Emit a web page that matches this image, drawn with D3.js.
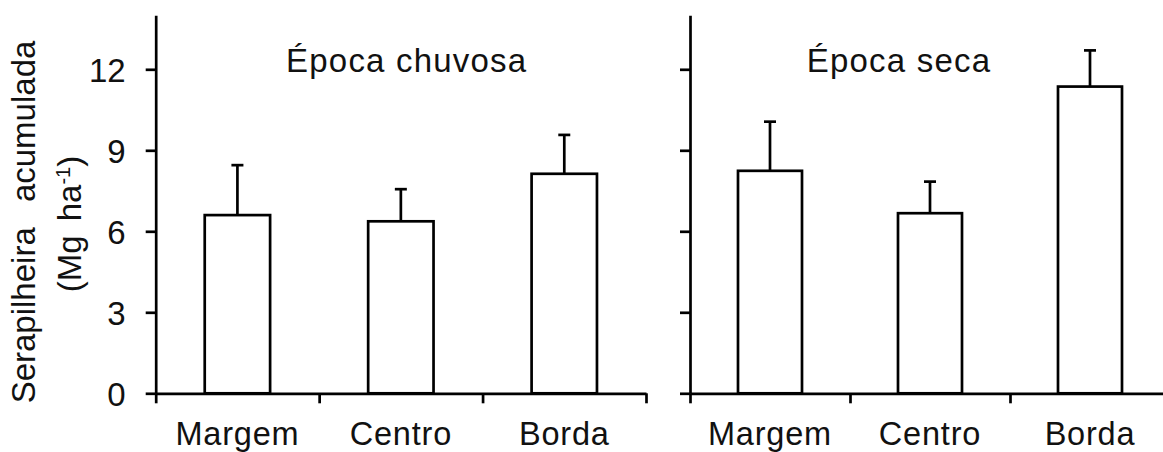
<!DOCTYPE html>
<html>
<head>
<meta charset="utf-8">
<script src="https://cdn.jsdelivr.net/npm/d3@7"></script>
<style>
body { margin: 0; background: #fff; }
text { font-family: "Liberation Sans", Arial, sans-serif; fill: #111; }
</style>
</head>
<body>
<div id="chart"></div>
<script>
// categories and values (Mg ha-1)
var sites = ["Margem", "Centro", "Borda"];
var rainyMean = [6.6, 6.37, 8.13];
var rainyErr = [8.45, 7.56, 9.57];
var dryMean = [8.24, 6.67, 11.36];
var dryErr = [10.06, 7.84, 12.7];
var yTicks = [0, 3, 6, 9, 12];
var panelTitles = ["Época chuvosa", "Época seca"];

var w = 1163, h = 452;
var lw = 2.7;

var svg = d3.select("#chart")
	.append("svg")
	.attr("width", w)
	.attr("height", h);

// shared y scale
var yScale = d3.scaleLinear()
	.domain([0, 14])
	.range([393.3, 15.3]);

var panels = [
	{ x0: 155.7, x1: 646, mean: rainyMean, err: rainyErr, title: panelTitles[0], tx: 406.7, labels: true },
	{ x0: 690, x1: 1170, mean: dryMean, err: dryErr, title: panelTitles[1], tx: 899, labels: false }
];

panels.forEach(function(p) {
	var g = svg.append("g");

	var xBand = d3.scaleBand()
		.domain(sites)
		.range([p.x0, p.x1])
		.paddingInner(0.6)
		.paddingOuter(0.3);

	// boundary ticks between categories
	var xEdge = d3.scaleLinear()
		.domain([0, sites.length])
		.range([p.x0, p.x1]);

	// Y axis
	var yAxis = d3.axisLeft(yScale)
		.tickValues(yTicks)
		.tickSize(10)
		.tickSizeOuter(0)
		.tickPadding(20)
		.tickFormat(p.labels ? d3.format("d") : "");

	var ya = g.append("g")
		.attr("transform", "translate(" + p.x0 + ",0)")
		.call(yAxis);
	ya.selectAll("text")
		.style("font-size", "33px")
		.attr("dy", "0.36em");

	// X axis tick marks
	var xAxis = d3.axisBottom(xEdge)
		.tickValues(d3.range(sites.length + 1))
		.tickSize(10)
		.tickSizeOuter(0)
		.tickFormat("");

	g.append("g")
		.attr("transform", "translate(0," + yScale(0) + ")")
		.call(xAxis);

	// category labels
	var xLab = d3.axisBottom(xBand).tickSize(0).tickPadding(0);
	var xl = g.append("g")
		.attr("transform", "translate(0," + yScale(0) + ")")
		.call(xLab);
	xl.select(".domain").remove();
	xl.selectAll("text")
		.attr("y", 52)
		.attr("dy", 0)
		.style("font-size", "32.5px")
		.style("letter-spacing", "0.8px");

	g.selectAll(".domain, .tick line")
		.attr("stroke", "#000")
		.attr("stroke-width", lw);

	// error bars (upper only)
	g.selectAll(".err")
		.data(sites)
		.enter()
		.append("line")
		.attr("class", "err")
		.attr("x1", function(d) { return xBand(d) + xBand.bandwidth() / 2; })
		.attr("x2", function(d) { return xBand(d) + xBand.bandwidth() / 2; })
		.attr("y1", function(d, i) { return yScale(p.mean[i]); })
		.attr("y2", function(d, i) { return yScale(p.err[i]); })
		.attr("stroke", "#000")
		.attr("stroke-width", lw);

	g.selectAll(".cap")
		.data(sites)
		.enter()
		.append("line")
		.attr("class", "cap")
		.attr("x1", function(d) { return xBand(d) + xBand.bandwidth() / 2 - 6; })
		.attr("x2", function(d) { return xBand(d) + xBand.bandwidth() / 2 + 6; })
		.attr("y1", function(d, i) { return yScale(p.err[i]); })
		.attr("y2", function(d, i) { return yScale(p.err[i]); })
		.attr("stroke", "#000")
		.attr("stroke-width", lw);

	// bars
	g.selectAll(".bar")
		.data(sites)
		.enter()
		.append("rect")
		.attr("class", "bar")
		.attr("x", function(d) { return xBand(d); })
		.attr("y", function(d, i) { return yScale(p.mean[i]); })
		.attr("width", xBand.bandwidth())
		.attr("height", function(d, i) { return yScale(0) - yScale(p.mean[i]); })
		.attr("fill", "#fff")
		.attr("stroke", "#000")
		.attr("stroke-width", lw);

	// panel title
	g.append("text")
		.attr("x", p.tx)
		.attr("y", 72)
		.attr("text-anchor", "middle")
		.style("font-size", "33px")
		.style("letter-spacing", "1.2px")
		.text(p.title);
});

// Y axis label
svg.append("text")
	.attr("transform", "translate(35,222) rotate(-90)")
	.attr("text-anchor", "middle")
	.style("font-size", "33px")
	.style("word-spacing", "16px")
	.text("Serapilheira acumulada");

var yl2 = svg.append("text")
	.attr("transform", "translate(81,224) rotate(-90)")
	.attr("text-anchor", "middle")
	.style("font-size", "33px")
	.style("word-spacing", "5px");
yl2.append("tspan").text("(Mg ha");
yl2.append("tspan").attr("baseline-shift", "super").style("font-size", "20px").text("-1");
yl2.append("tspan").text(")");
</script>
</body>
</html>
